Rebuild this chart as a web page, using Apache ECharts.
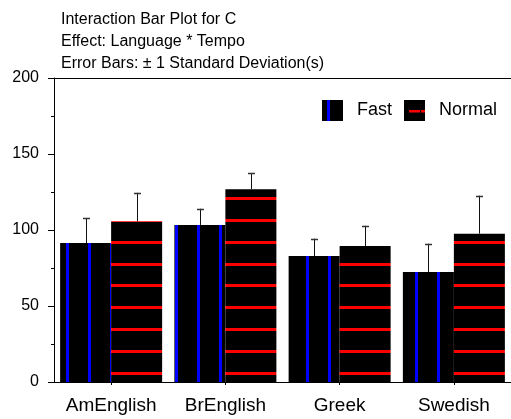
<!DOCTYPE html>
<html><head><meta charset="utf-8">
<script src="https://cdn.jsdelivr.net/npm/echarts@6/dist/echarts.min.js"></script>
<style>html,body{margin:0;padding:0;background:#fff}#c{width:511px;height:419px}</style>
</head><body><div id="c"></div>
<script>
// ---- data ----
const categories = ['AmEnglish', 'BrEnglish', 'Greek', 'Swedish'];
const seriesNames = ['Fast', 'Normal'];
const fastMeans = [91.4, 103.3, 82.9, 72.4];
const fastSD = [16.3, 10.7, 11.4, 18.6];
const normalMeans = [105.7, 126.8, 89.5, 97.6];
const normalSD = [18.8, 10.5, 13.3, 25.0];
const titleLines = ['Interaction Bar Plot for C', 'Effect: Language * Tempo', 'Error Bars: \u00b1 1 Standard Deviation(s)'];

// ---- patterns ----
function makePattern(kind, w, h, stripes, thick) {
  const cv = document.createElement('canvas');
  cv.width = w; cv.height = h;
  const ctx = cv.getContext('2d');
  ctx.fillStyle = '#000'; ctx.fillRect(0, 0, w, h);
  if (kind === 'v') {
    ctx.fillStyle = '#0000ff';
    stripes.forEach(x => ctx.fillRect(x, 0, thick, h));
  } else {
    ctx.fillStyle = '#ff0000';
    stripes.forEach(s => ctx.fillRect(s[0], s[1], s[2], thick));
  }
  return { image: cv, repeat: 'repeat' };
}
const fastPattern = makePattern('v', 109, 109, [1, 22, 44, 66, 88], 3);
const normalPattern = makePattern('h', 109, 109, [[0,1,109],[0,23,109],[0,45,109],[0,66,109],[0,88,109]], 3);
const fastLegend = makePattern('v', 21, 21, [5], 3);
const normalLegend = makePattern('h', 22, 21, [[5,10,11],[17,10,5]], 2.5);

const BW = 51;
function errSeries(means, sds, side) {
  return {
    type: 'custom',
    xAxisIndex: 0, yAxisIndex: 0,
    z: 10, silent: true,
    data: means.map((m, i) => [i, m, sds[i]]),
    renderItem: function (params, api) {
      const i = api.value(0), m = api.value(1), sd = api.value(2);
      const p0 = api.coord([i, m]);
      const p1 = api.coord([i, m + sd]);
      const x = Math.round(p0[0] + side * BW / 2) + 0.5;
      const style = { stroke: '#111', lineWidth: 1, fill: null };
      return {
        type: 'group',
        children: [
          { type: 'line', shape: { x1: x, y1: p0[1], x2: x, y2: p1[1] }, style: style },
          { type: 'line', shape: { x1: x - 3.5, y1: Math.round(p1[1]) + 0.5, x2: x + 3.5, y2: Math.round(p1[1]) + 0.5 }, style: { stroke: '#333', lineWidth: 1.5 } }
        ]
      };
    }
  };
}

const chart = echarts.init(document.getElementById('c'), null, { renderer: 'canvas' });
chart.setOption({
  animation: false,
  backgroundColor: '#fff',
  textStyle: { fontFamily: 'Liberation Sans, Arial, sans-serif' },
  title: {
    text: titleLines.join('\n'),
    left: 56, top: 4,
    textStyle: { fontSize: 16, fontWeight: 'normal', color: '#000', lineHeight: 21.7, fontFamily: 'Liberation Sans' }
  },
  legend: {
    left: 322, top: 100, padding: 0,
    itemWidth: 21, itemHeight: 21, itemGap: 12,
    icon: 'rect',
    textStyle: { fontSize: 18, color: '#000', padding: [0, 0, 0, 9], fontFamily: 'Liberation Sans' },
    data: [
      { name: 'Fast', itemStyle: { color: fastLegend } },
      { name: 'Normal', itemStyle: { color: normalLegend } }
    ]
  },
  grid: { left: 54, right: -3, top: 78, bottom: 37, containLabel: false },
  xAxis: [{
    type: 'category', data: categories, position: 'bottom',
    axisLine: { lineStyle: { color: '#000', width: 1 } },
    axisTick: { show: true, alignWithLabel: true, length: 3, lineStyle: { color: '#000' } },
    axisLabel: { fontSize: 19, color: '#000', margin: 14, interval: 0, fontFamily: 'Liberation Sans' },
    splitLine: { show: false }
  }, {
    type: 'category', data: categories, position: 'top',
    axisLine: { lineStyle: { color: '#000', width: 1 } },
    axisTick: { show: false }, axisLabel: { show: false }, splitLine: { show: false }
  }],
  yAxis: {
    type: 'value', min: 0, max: 200, interval: 50,
    axisLine: { show: true, lineStyle: { color: '#000', width: 1 } },
    axisTick: { show: true, length: 6, lineStyle: { color: '#000' } },
    minorTick: { show: true, splitNumber: 2, length: 3, lineStyle: { color: '#000' } },
    axisLabel: { fontSize: 16, color: '#000', margin: 15, fontFamily: 'Liberation Sans' },
    splitLine: { show: false }
  },
  series: [
    { name: seriesNames[0], type: 'bar', data: fastMeans, barWidth: BW, barGap: '0%',
      itemStyle: { color: fastPattern } },
    { name: seriesNames[1], type: 'bar', data: normalMeans, barWidth: BW, barGap: '0%',
      itemStyle: { color: normalPattern } },
    errSeries(fastMeans, fastSD, -1),
    errSeries(normalMeans, normalSD, 1)
  ]
});
</script></body></html>
